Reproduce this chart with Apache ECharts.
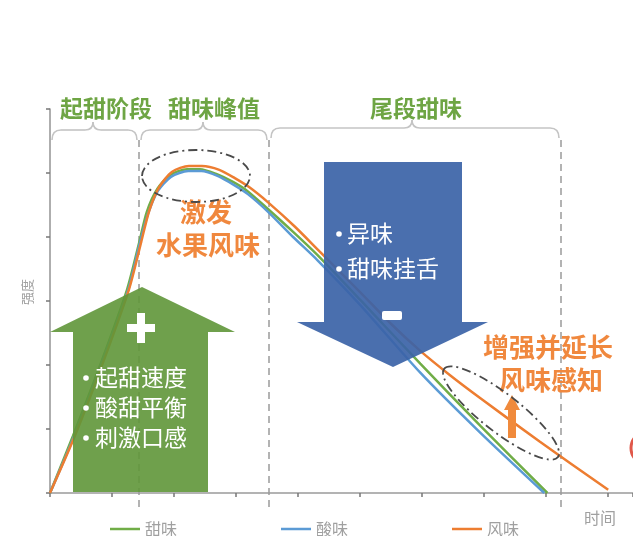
<!DOCTYPE html>
<html>
<head>
<meta charset="utf-8">
<script src="https://cdn.jsdelivr.net/npm/echarts@6/dist/echarts.min.js"></script>
<style>
html,body{margin:0;padding:0;background:#fff;}
#chart{width:633px;height:536px;}
</style>
</head>
<body>
<div id="chart"></div>
<script>
// ---- data ----
const seriesNames = ['甜味', '酸味', '风味'];
const stageLabels = ['起甜阶段', '甜味峰值', '尾段甜味'];
const axisNames = ['时间', '强度'];

const sweetX = [0, 0.37, 0.81, 1.24, 1.44, 1.56, 1.73, 1.94, 2.21, 2.42, 2.69, 2.95, 3.18, 3.50, 3.92, 4.31, 5.00, 5.97, 6.94, 8.02];
const sweetY = [0, 0.89, 2.00, 3.17, 3.92, 4.39, 4.75, 4.97, 5.06, 5.06, 4.98, 4.86, 4.72, 4.45, 4.08, 3.72, 3.02, 2.02, 1.05, 0];

const sourX = [0, 0.39, 0.82, 1.26, 1.45, 1.58, 1.74, 1.95, 2.23, 2.44, 2.71, 2.97, 3.19, 3.52, 3.92, 4.31, 5.00, 5.97, 6.94, 7.97];
const sourY = [0, 0.89, 2.00, 3.17, 3.91, 4.36, 4.72, 4.94, 5.03, 5.03, 4.95, 4.81, 4.67, 4.39, 4.00, 3.64, 2.94, 1.88, 0.94, 0];

const flavorX = [0, 0.40, 0.84, 1.27, 1.47, 1.60, 1.76, 1.97, 2.24, 2.45, 2.73, 2.98, 3.21, 3.53, 3.95, 4.35, 5.00, 5.48, 5.97, 6.45, 6.94, 7.90, 9.00];
const flavorY = [0, 0.89, 2.00, 3.17, 3.92, 4.41, 4.78, 5.02, 5.11, 5.11, 5.05, 4.92, 4.78, 4.53, 4.16, 3.77, 3.14, 2.66, 2.22, 1.84, 1.48, 0.80, 0.05];

const plusItems = ['起甜速度', '酸甜平衡', '刺激口感'];
const minusItems = ['异味', '甜味挂舌'];
const peakNote = ['激发', '水果风味'];
const tailNote = ['增强并延长', '风味感知'];

// ---- build ----
const zip = (xs, ys) => xs.map((x, i) => [x, ys[i]]);
const colors = ['#70AD47', '#5B9BD5', '#ED7D31'];
const FONT = '"Noto Sans CJK SC", "Noto Sans", sans-serif';
const GREEN_TXT = '#6ea544';
const ORANGE_TXT = '#f0883e';
const DASH_DOT = [9, 4, 2, 4];
const BRACE_STYLE = {fill: null, stroke: '#c4c4c4', lineWidth: 1.6};

const graphics = [];
function brace(x1, x2, mid, y) {
  const segs = [
    {type: 'bezierCurve', shape: {x1: x1, y1: y + 10, cpx1: x1, cpy1: y, x2: x1 + 9, y2: y}},
    {type: 'line', shape: {x1: x1 + 9, y1: y, x2: mid - 8, y2: y}},
    {type: 'bezierCurve', shape: {x1: mid - 8, y1: y, cpx1: mid, cpy1: y, x2: mid, y2: y - 8}},
    {type: 'bezierCurve', shape: {x1: mid, y1: y - 8, cpx1: mid, cpy1: y, x2: mid + 8, y2: y}},
    {type: 'line', shape: {x1: mid + 8, y1: y, x2: x2 - 9, y2: y}},
    {type: 'bezierCurve', shape: {x1: x2 - 9, y1: y, cpx1: x2, cpy1: y, x2: x2, y2: y + 10}}
  ];
  segs.forEach(s => { s.z = 10; s.style = BRACE_STYLE; graphics.push(s); });
}

// stage labels
[[106, 108], [214, 108], [416, 108]].forEach((p, i) => {
  graphics.push({type: 'text', x: p[0], y: p[1], z: 10,
    style: {text: stageLabels[i], font: 'bold 23px ' + FONT, fill: GREEN_TXT, align: 'center', verticalAlign: 'middle'}});
});
// braces
[[52, 137, 93, 130], [141, 267, 203, 130], [271, 559, 412, 128]].forEach(b => brace(b[0], b[1], b[2], b[3]));
// dashed separators
[139, 269, 561].forEach(x => {
  graphics.push({type: 'line', z: 1, shape: {x1: x, y1: 140, x2: x, y2: 512},
    style: {stroke: '#9a9a9a', lineWidth: 1.5, lineDash: [7, 5]}});
});
// green up arrow
graphics.push({type: 'polygon', z: 5,
  shape: {points: [[73, 492], [73, 332], [50, 332], [142, 287], [235, 332], [208, 332], [208, 492]]},
  style: {fill: '#5f9639', opacity: 0.9}});
graphics.push({type: 'rect', z: 6, shape: {x: 127, y: 324, width: 28, height: 8}, style: {fill: '#fff'}});
graphics.push({type: 'rect', z: 6, shape: {x: 137, y: 313, width: 8, height: 30}, style: {fill: '#fff'}});
plusItems.forEach((t, i) => {
  const y = 377 + i * 30;
  graphics.push({type: 'circle', z: 6, shape: {cx: 86, cy: y + 1, r: 2.8}, style: {fill: '#fff'}});
  graphics.push({type: 'text', z: 6, x: 95, y: y, style: {text: t, font: '23px ' + FONT, fill: '#fff', align: 'left', verticalAlign: 'middle'}});
});
// blue down arrow
graphics.push({type: 'polygon', z: 5,
  shape: {points: [[324, 162], [462, 162], [462, 322], [488, 322], [393, 367], [297, 322], [324, 322]]},
  style: {fill: '#3b63a7', opacity: 0.92}});
graphics.push({type: 'rect', z: 6, shape: {x: 382, y: 311, width: 20, height: 9, r: 2}, style: {fill: '#fff'}});
minusItems.forEach((t, i) => {
  const y = 233 + i * 35;
  graphics.push({type: 'circle', z: 6, shape: {cx: 339, cy: y + 1, r: 2.8}, style: {fill: '#fff'}});
  graphics.push({type: 'text', z: 6, x: 347, y: y, style: {text: t, font: '23px ' + FONT, fill: '#fff', align: 'left', verticalAlign: 'middle'}});
});
// peak note
graphics.push({type: 'text', z: 3, x: 206, y: 212, style: {text: peakNote[0], font: 'bold 26px ' + FONT, fill: ORANGE_TXT, align: 'center', verticalAlign: 'middle'}});
graphics.push({type: 'text', z: 3, x: 208, y: 245, style: {text: peakNote[1], font: 'bold 26px ' + FONT, fill: ORANGE_TXT, align: 'center', verticalAlign: 'middle'}});
// tail note
graphics.push({type: 'text', z: 3, x: 548, y: 347, style: {text: tailNote[0], font: 'bold 26px ' + FONT, fill: ORANGE_TXT, align: 'center', verticalAlign: 'middle'}});
graphics.push({type: 'text', z: 3, x: 551, y: 380, style: {text: tailNote[1], font: 'bold 26px ' + FONT, fill: ORANGE_TXT, align: 'center', verticalAlign: 'middle'}});
// small orange arrow
graphics.push({type: 'polygon', z: 6,
  shape: {points: [[508, 438], [508, 410], [504, 410], [512, 395], [520, 410], [516, 410], [516, 438]]},
  style: {fill: '#f08a3c'}});
// ellipses
graphics.push({type: 'ellipse', z: 7, x: 196, y: 176, shape: {cx: 0, cy: 0, rx: 54, ry: 26},
  style: {fill: null, stroke: '#4a4a4a', lineWidth: 1.8, lineDash: DASH_DOT}});
graphics.push({type: 'ellipse', z: 7, x: 501, y: 413, rotation: -0.66, shape: {cx: 0, cy: 0, rx: 72, ry: 19},
  style: {fill: null, stroke: '#4a4a4a', lineWidth: 1.8, lineDash: DASH_DOT}});
// red arc at right edge
graphics.push({type: 'circle', z: 7, shape: {cx: 648, cy: 448, r: 17},
  style: {fill: null, stroke: '#e0584a', lineWidth: 3}});
// axis names
graphics.push({type: 'text', z: 3, x: 600, y: 518, style: {text: axisNames[0], font: '16px ' + FONT, fill: '#a0a0a0', align: 'center', verticalAlign: 'middle'}});
graphics.push({type: 'text', z: 3, x: 27, y: 292, rotation: Math.PI / 2, style: {text: axisNames[1], font: '13px ' + FONT, fill: '#a0a0a0', align: 'center', verticalAlign: 'middle'}});

const option = {
  backgroundColor: '#fff',
  animation: false,
  color: colors,
  grid: {left: 50, right: 0, top: 109, bottom: 43, containLabel: false},
  legend: {
    data: seriesNames, left: 110, top: 521, padding: 0, itemGap: 104,
    icon: 'rect', itemWidth: 30, itemHeight: 2.5,
    textStyle: {color: '#a0a0a0', fontSize: 16, fontFamily: FONT}
  },
  xAxis: {
    type: 'value', min: 0, max: 9.4, interval: 1,
    axisLine: {show: true, lineStyle: {color: '#9a9a9a', width: 1.6}},
    axisTick: {show: true, length: 4, inside: false, lineStyle: {color: '#777', width: 1.5}},
    axisLabel: {show: false}, splitLine: {show: false}
  },
  yAxis: {
    type: 'value', min: 0, max: 6, interval: 1,
    axisLine: {show: true, lineStyle: {color: '#9a9a9a', width: 1.6}},
    axisTick: {show: true, length: 4, inside: false, lineStyle: {color: '#777', width: 1.5}},
    axisLabel: {show: false}, splitLine: {show: false}
  },
  graphic: graphics,
  series: [
    {name: seriesNames[0], type: 'line', data: zip(sweetX, sweetY), smooth: 0.25, showSymbol: false, lineStyle: {width: 2.5}, z: 2},
    {name: seriesNames[1], type: 'line', data: zip(sourX, sourY), smooth: 0.25, showSymbol: false, lineStyle: {width: 2.5}, z: 2},
    {name: seriesNames[2], type: 'line', data: zip(flavorX, flavorY), smooth: 0.25, showSymbol: false, lineStyle: {width: 2.5}, z: 2}
  ]
};
const chart = echarts.init(document.getElementById('chart'), null, {renderer: 'canvas'});
chart.setOption(option);
</script>
</body>
</html>
